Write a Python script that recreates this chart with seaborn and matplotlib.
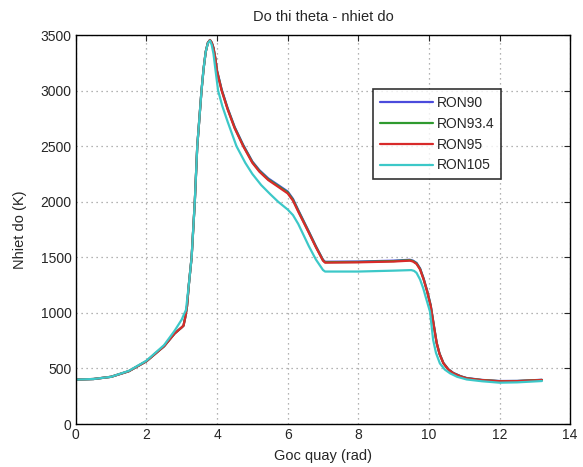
import pandas as pd
import numpy as np
import seaborn as sns
import matplotlib.pyplot as plt

# Curve values
x_main = [0, 0.5, 1.0, 1.5, 2.0, 2.5, 2.8, 3.0, 3.05, 3.1, 3.15, 3.2, 3.28, 3.37, 3.44, 3.56,
          3.62, 3.68, 3.74, 3.8, 3.85, 3.9, 3.95, 4.0, 4.13, 4.3, 4.5, 4.74, 5.0, 5.2, 5.45,
          5.75, 6.0, 6.15, 6.3, 6.6, 6.8, 7.0, 7.06, 8.0, 9.0, 9.46, 9.55, 9.65, 9.75, 9.85,
          9.95, 10.05, 10.15, 10.22, 10.3, 10.41, 10.55, 10.69, 10.9, 11.07, 11.5, 12.0,
          12.5, 13.2]
t_ron95 = [400, 405, 425, 475, 565, 700, 815, 870, 885, 960, 1060, 1250, 1500, 2000, 2500, 3000,
           3200, 3350, 3430, 3455, 3430, 3380, 3290, 3170, 3000, 2830, 2660, 2500, 2350, 2270, 2195,
           2130, 2075, 2010, 1910, 1720, 1590, 1470, 1452, 1455, 1462, 1470, 1462, 1440, 1390, 1300,
           1190, 1060, 860, 726, 630, 546, 490, 456, 428, 411, 395, 385,
           386, 396]
t_ron90 = [400, 405, 425, 475, 565, 700, 815, 870, 885, 960, 1060, 1250, 1500, 2000, 2500, 3000,
           3200, 3350, 3430, 3455, 3432, 3385, 3296, 3180, 3012, 2842, 2672, 2512, 2362, 2284, 2210,
           2146, 2092, 2026, 1925, 1732, 1600, 1478, 1460, 1462, 1470, 1478, 1470, 1450, 1400, 1310,
           1200, 1070, 868, 732, 635, 550, 493, 460, 430, 414, 397, 387,
           388, 398]
t_ron934 = [400, 405, 425, 475, 565, 700, 815, 870, 885, 960, 1060, 1250, 1500, 2000, 2500, 3000,
            3200, 3350, 3430, 3455, 3431, 3382, 3293, 3175, 3006, 2836, 2666, 2506, 2356, 2277, 2202,
            2138, 2084, 2018, 1918, 1726, 1595, 1474, 1456, 1458, 1466, 1474, 1466, 1445, 1395, 1305,
            1195, 1065, 864, 729, 632, 548, 491, 458, 429, 412, 396, 386,
            387, 397]

x_105 = [0, 0.5, 1.0, 1.5, 2.0, 2.5, 2.8, 2.9, 3.0, 3.06, 3.12, 3.2, 3.28, 3.37, 3.44, 3.56,
         3.62, 3.68, 3.74, 3.8, 3.85, 3.9, 3.95, 4.03, 4.15, 4.3, 4.55, 4.8, 5.0, 5.25, 5.5,
         5.73, 6.0, 6.15, 6.3, 6.6, 6.8, 7.0, 7.06, 8.0, 9.0, 9.5, 9.58, 9.65, 9.75, 9.84,
         9.93, 10.03, 10.12, 10.2, 10.31, 10.45, 10.6, 10.8, 11.07, 11.5, 12.0, 12.5, 13.2]
t_ron105 = [400, 405, 425, 478, 570, 710, 840, 890, 940, 985, 1026, 1250, 1500, 2000, 2500, 3000,
            3200, 3350, 3425, 3450, 3410, 3330, 3200, 3000, 2860, 2720, 2500, 2350, 2250, 2150, 2070,
            2000, 1930, 1880, 1800, 1600, 1480, 1386, 1372, 1372, 1380, 1385, 1378, 1360, 1300, 1220,
            1120, 1011, 756, 640, 546, 490, 456, 425, 401, 385, 372, 375, 387]

series = ['RON90', 'RON93.4', 'RON95', 'RON105']
colors = {'RON90': '#4b4bdc', 'RON93.4': '#2f9a2f', 'RON95': '#d82a2a', 'RON105': '#3cc8c8'}

frames = []
for name, xs, ys in [('RON90', x_main, t_ron90), ('RON93.4', x_main, t_ron934),
                     ('RON95', x_main, t_ron95), ('RON105', x_105, t_ron105)]:
    frames.append(pd.DataFrame({'theta': xs, 'T': ys, 'fuel': name}))
data = pd.concat(frames, ignore_index=True)

sns.set_style('white')
plt.rcParams['font.family'] = ['Liberation Sans', 'DejaVu Sans']

fig, ax = plt.subplots(figsize=(5.83, 4.67), dpi=100)
fig.subplots_adjust(left=0.130, right=0.978, bottom=0.092, top=0.925)

sns.lineplot(data=data, x='theta', y='T', hue='fuel', hue_order=series, palette=colors,
             sort=False, estimator=None, linewidth=1.6, ax=ax)

ax.set_xlim(0, 14)
ax.set_ylim(0, 3500)
ax.set_xticks(np.arange(0, 15, 2))
ax.set_yticks(np.arange(0, 3501, 500))
ax.grid(True, linestyle=(0, (1, 3)), color='#9a9a9a', linewidth=0.9)
ax.tick_params(direction='in', top=True, right=True, labelsize=10, length=4, pad=3)
for s in ax.spines.values():
    s.set_color('black')
    s.set_linewidth(1.0)

ax.set_title('Do thi theta - nhiet do', fontsize=10.5, pad=10)
ax.set_xlabel('Goc quay (rad)', fontsize=10.5, labelpad=5)
ax.set_ylabel('Nhiet do (K)', fontsize=10.5, labelpad=10)

leg = ax.legend(loc='upper left', bbox_to_anchor=(0.601, 0.862), fontsize=10,
                frameon=True, fancybox=False, handlelength=3.8, borderpad=0.5,
                labelspacing=0.5, handletextpad=0.3, borderaxespad=0)
leg.get_frame().set_edgecolor('black')
leg.get_frame().set_linewidth(1.2)
for line in leg.get_lines():
    line.set_linewidth(1.6)

plt.savefig('out.png', dpi=100)
